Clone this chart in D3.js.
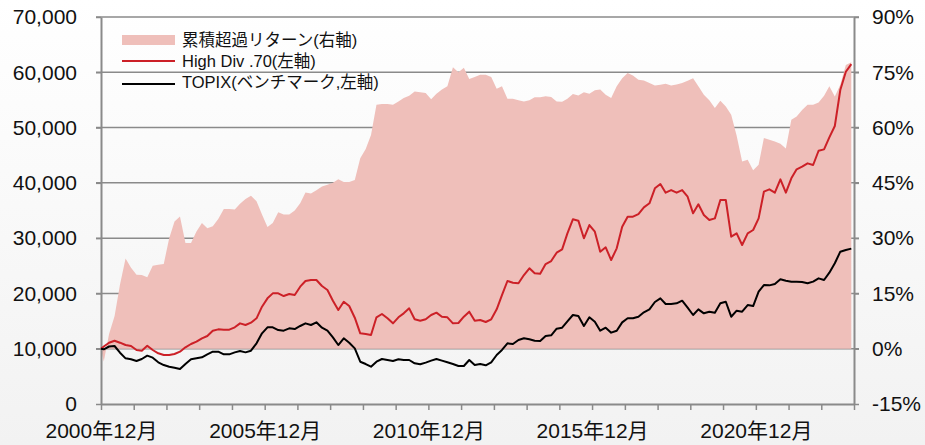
<!DOCTYPE html>
<html lang="ja">

<head>
    <meta charset="UTF-8">
    <script src="https://d3js.org/d3.v7.min.js"></script>
    <title>High Div.70 vs TOPIX</title>
    <style>
        body {
            margin: 0;
            background: #ffffff;
        }

        #chart text {
            font-family: "Liberation Sans", Arial, "Noto Sans CJK JP", sans-serif;
        }
    </style>
</head>

<body>
    <div id="chart"></div>

    <script>
        // monthly points: 2000/12 then every other month (2001/1, 2001/3, ... 2023/11)
        const topix = [
            10000, 9890, 10400, 10490, 9280, 8260, 8080, 7780, 8140, 8740,
            8380, 7540, 7050, 6750, 6570, 6330, 7230, 8080, 8260, 8440,
            8980, 9460, 9460, 8980, 8980, 9340, 9590, 9340, 9640, 10970,
            12780, 13870, 13870, 13380, 13260, 13690, 13560, 14110, 14590, 14290,
            14770, 13800, 13260, 12060, 10670, 11880, 11090, 10070, 7650, 7230,
            6750, 7650, 8140, 7960, 7780, 8080, 7960, 7960, 7360, 7180,
            7480, 7840, 8140, 7840, 7540, 7230, 6870, 6870, 7960, 7050,
            7230, 7000, 7540, 8860, 9770, 10970, 10850, 11580, 11880, 11700,
            11450, 11400, 12300, 12420, 13620, 13800, 14950, 16100, 15920, 14110,
            15680, 14890, 13260, 13800, 12900, 13260, 14770, 15500, 15500, 15790,
            16580, 17120, 18450, 19110, 18090, 18090, 18210, 18690, 17420, 16100,
            17120, 16400, 16700, 16520, 18210, 18500, 15790, 16880, 16700, 17900,
            17720, 20310, 21520, 21460, 21700, 22550, 22310, 22130, 22130, 22070,
            21830, 22130, 22730, 22430, 23750, 25450, 27550, 27850, 28100
        ];

        const highDiv = [
            10000, 10400, 11090, 11450, 11090, 10670, 10490, 9770, 9650, 10550,
            9770, 9170, 8860, 8860, 9040, 9460, 10250, 10850, 11270, 11880,
            12300, 13260, 13500, 13440, 13440, 13870, 14590, 14290, 14710, 15500,
            17600, 19110, 20010, 20010, 19530, 19890, 19710, 21220, 22250, 22430,
            22430, 21340, 20620, 18690, 17000, 18500, 17720, 15610, 12780, 12660,
            12480, 15680, 16280, 15500, 14590, 15680, 16400, 17300, 15320, 15070,
            15320, 16100, 16520, 15790, 15680, 14590, 14650, 15790, 16700, 15070,
            15190, 14830, 15320, 17120, 19710, 22250, 21940, 21830, 23330, 24540,
            23640, 23580, 25320, 25860, 27370, 27980, 30870, 33400, 33160, 29970,
            32370, 31170, 27550, 28340, 26040, 28160, 32070, 33880, 33880, 34360,
            35570, 36300, 39010, 39790, 38220, 38700, 38220, 38700, 37490, 34490,
            36120, 34180, 33280, 33580, 36900, 36900, 30260, 30870, 28760, 30870,
            31470, 33580, 38400, 38830, 38220, 40640, 38220, 40820, 42450, 42920,
            43530, 43230, 45810, 46060, 48230, 50280, 56790, 60100, 61490
        ];

        // 累積超過リターン (%)
        const excess = [
            0, -3.5, 4, 8.8, 17.4, 24.5, 22, 20.1, 20, 19.4,
            22.5, 22.8, 23, 30, 34.5, 35.9, 28.7, 28.7, 31.8, 34.1,
            32.7, 33.2, 35.2, 37.9, 37.9, 37.8, 39.3, 40.6, 41.5, 40,
            36.4, 33, 34.1, 37, 36.4, 36.4, 37.5, 39.5, 42.4, 42.1,
            43, 44, 44.5, 45, 46, 45.2, 45.2, 45.8, 51.7, 54.2,
            58, 66.2, 66.4, 66.4, 66.2, 67.1, 68, 68.6, 69.8, 69.6,
            69.4, 67.7, 69.2, 70.3, 71.2, 76.4, 75, 76.2, 73.2, 73.7,
            74.3, 74.3, 73.7, 70.5, 71.2, 67.8, 67.8, 67.4, 67.1, 67.4,
            68.2, 68.2, 68.5, 68.3, 67.1, 67, 67.8, 69.1, 68.7, 69.6,
            69.2, 70.1, 70.3, 68.9, 68, 71.2, 73.4, 74.8, 74.1, 73,
            72.8, 72.1, 71.4, 71.6, 71.9, 71.4, 71.7, 72.1, 72.7, 73.4,
            71.2, 68.9, 67.4, 65.3, 67.3, 65.7, 63.5, 57.8, 50.8, 51.3,
            48.4, 49.9, 57.2, 56.7, 56.2, 55.6, 54.3, 62.1, 63, 64.8,
            66.2, 66.2, 66.8, 68.6, 71.2, 68.4, 71.6, 77, 77.7
        ];

        const leftTicks = [0, 10000, 20000, 30000, 40000, 50000, 60000, 70000];
        const rightTicks = [-15, 0, 15, 30, 45, 60, 75, 90];
        const labelYears = [2000, 2005, 2010, 2015, 2020];
        const legendLabels = ["累積超過リターン(右軸)", "High Div .70(左軸)", "TOPIX(ベンチマーク,左軸)"];

        const dates = [new Date(2000, 11, 1)].concat(
            d3.timeMonth.every(2).range(new Date(2001, 0, 1), new Date(2023, 11, 2)));

        const rows = dates.map((d, i) => ({ date: d, topix: topix[i], hd: highDiv[i], ex: excess[i] }))
            .filter(d => d.topix !== undefined && d.hd !== undefined && d.ex !== undefined);

        const W = 925, H = 445;
        const plot = { left: 101, right: 854, top: 17, bottom: 404 };

        const svg = d3.select("#chart")
            .append("svg")
            .attr("width", W)
            .attr("height", H);

        // light grey fade in the background
        const grad = svg.append("defs").append("linearGradient")
            .attr("id", "bg").attr("x1", 0).attr("y1", 0).attr("x2", 0).attr("y2", 1);
        grad.append("stop").attr("offset", "0%").attr("stop-color", "#ffffff");
        grad.append("stop").attr("offset", "100%").attr("stop-color", "#f2f2f2");
        svg.append("rect").attr("width", W).attr("height", H).attr("fill", "url(#bg)");

        const x = d3.scaleTime()
            .domain([new Date(2000, 11, 1), new Date(2023, 11, 1)])
            .range([plot.left, plot.right]);

        const yLeft = d3.scaleLinear()
            .domain([0, 70000])
            .range([plot.bottom, plot.top]);

        const yRight = d3.scaleLinear()
            .domain([-15, 90])
            .range([plot.bottom, plot.top]);

        // horizontal grid
        svg.append("g")
            .selectAll("line")
            .data(leftTicks.slice(1))
            .join("line")
            .attr("x1", plot.left - 5)
            .attr("x2", plot.right + 5)
            .attr("y1", d => yLeft(d))
            .attr("y2", d => yLeft(d))
            .attr("stroke", "#8a8a8a")
            .attr("stroke-width", 1.5);

        // excess return area (right axis)
        const area = d3.area()
            .x(d => x(d.date))
            .y0(yRight(0))
            .y1(d => yRight(d.ex));

        svg.append("path")
            .datum(rows)
            .attr("fill", "#efbfba")
            .attr("d", area);

        // axes
        const axisStyle = g => {
            g.select(".domain").attr("stroke", "#8a8a8a").attr("stroke-width", 2);
            g.selectAll(".tick line").attr("stroke", "#8a8a8a").attr("stroke-width", 1.5);
            g.selectAll("text").attr("fill", "#111").style("font-size", "21px");
        };

        svg.append("g")
            .attr("transform", `translate(${plot.left},0)`)
            .call(d3.axisLeft(yLeft).tickValues(leftTicks).tickSize(5).tickSizeOuter(0)
                .tickPadding(19).tickFormat(d3.format(",")))
            .call(axisStyle);

        svg.append("g")
            .attr("transform", `translate(${plot.right},0)`)
            .call(d3.axisRight(yRight).tickValues(rightTicks).tickSize(5).tickSizeOuter(0)
                .tickPadding(13).tickFormat(d => d + "%"))
            .call(axisStyle);

        const yearTicks = d3.range(2000, 2024).map(y => new Date(y, 11, 1));
        svg.append("g")
            .attr("transform", `translate(0,${plot.bottom})`)
            .call(d3.axisBottom(x).tickValues(yearTicks).tickSize(6).tickSizeOuter(0).tickPadding(13)
                .tickFormat(d => labelYears.includes(d.getFullYear()) ? d.getFullYear() + "年12月" : ""))
            .call(axisStyle);

        // lines (left axis)
        const line = key => d3.line()
            .x(d => x(d.date))
            .y(d => yLeft(d[key]));

        svg.append("path")
            .datum(rows)
            .attr("fill", "none")
            .attr("stroke", "#cc2027")
            .attr("stroke-width", 2)
            .attr("stroke-linejoin", "round")
            .attr("d", line("hd"));

        svg.append("path")
            .datum(rows)
            .attr("fill", "none")
            .attr("stroke", "#000")
            .attr("stroke-width", 2)
            .attr("stroke-linejoin", "round")
            .attr("d", line("topix"));

        // legend
        const legend = svg.append("g")
            .selectAll("g")
            .data(legendLabels)
            .join("g")
            .attr("transform", (d, i) => `translate(122,${40 + i * 21})`);

        legend.each(function (d, i) {
            const g = d3.select(this);
            if (i === 0) {
                g.append("rect").attr("x", 0).attr("y", -5).attr("width", 53).attr("height", 10).attr("fill", "#efbfba");
            } else {
                g.append("line").attr("x1", 0).attr("x2", 53).attr("y1", i === 2 ? 2 : 0).attr("y2", i === 2 ? 2 : 0)
                    .attr("stroke", i === 1 ? "#cc2027" : "#000").attr("stroke-width", 2);
            }
        });

        legend.append("text")
            .attr("x", 60)
            .attr("dy", "0.35em")
            .style("font-size", "16.5px")
            .attr("fill", "#111")
            .text(d => d);
    </script>
</body>

</html>
